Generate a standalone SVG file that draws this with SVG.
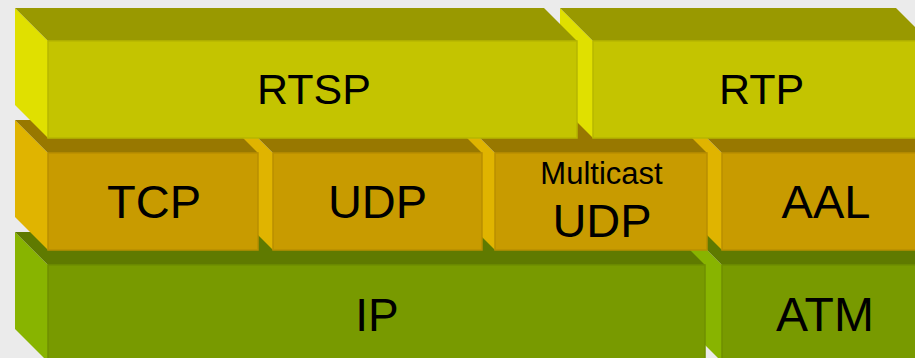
<svg xmlns="http://www.w3.org/2000/svg" width="915" height="358" viewBox="0 0 915 358">
<style>
.bg{fill:#ebebeb}
.t1f{fill:#c4c400;stroke:#b6b600;stroke-width:1.5}
.t1t{fill:#999900}
.t1s{fill:#e0e000}
.t2f{fill:#c89b00;stroke:#b98e00;stroke-width:1.5}
.t2t{fill:#987800}
.t2s{fill:#e0b400}
.t3f{fill:#789a00;stroke:#6f8f00;stroke-width:1.5}
.t3t{fill:#5f7a00}
.t3s{fill:#88b400}
text{font-family:"Liberation Sans",Arial,sans-serif;fill:#000;text-anchor:middle}
</style>
<rect class="bg" x="0" y="0" width="915" height="358"/>
<g id="connectors"></g>
<!-- bottom row, right to left -->
<g id="atm">
<polygon class="t3s" points="689,232 722,265 722,362 689,329"/>
<polygon class="t3t" points="689,232 897,232 930,265 722,265"/>
<rect class="t3f" x="722" y="265" width="208" height="97"/>
<text x="825" y="331" font-size="48">ATM</text>
</g>
<g id="ip">
<polygon class="t3s" points="15,232 48,265 48,362 15,329"/>
<polygon class="t3t" points="15,232 672,232 705,265 48,265"/>
<rect class="t3f" x="48" y="265" width="657" height="97"/>
<text x="377" y="331" font-size="46">IP</text>
</g>
<!-- middle row, right to left -->
<g id="aal">
<polygon class="t2s" points="689,120 722,153 722,250 689,217"/>
<polygon class="t2t" points="689,120 897,120 930,153 722,153"/>
<rect class="t2f" x="722" y="153" width="208" height="97"/>
<text x="826" y="218" font-size="47">AAL</text>
</g>
<g id="multicast-udp">
<polygon class="t2s" points="462,120 495,153 495,250 462,217"/>
<polygon class="t2t" points="462,120 674,120 707,153 495,153"/>
<rect class="t2f" x="495" y="153" width="212" height="97"/>
<text x="601.5" y="184" font-size="31">Multicast</text>
<text x="602" y="237" font-size="47">UDP</text>
</g>
<g id="udp">
<polygon class="t2s" points="240,120 273,153 273,250 240,217"/>
<polygon class="t2t" points="240,120 449,120 482,153 273,153"/>
<rect class="t2f" x="273" y="153" width="209" height="97"/>
<text x="377.5" y="218" font-size="47">UDP</text>
</g>
<g id="tcp">
<polygon class="t2s" points="15,120 48,153 48,250 15,217"/>
<polygon class="t2t" points="15,120 225,120 258,153 48,153"/>
<rect class="t2f" x="48" y="153" width="210" height="97"/>
<text x="154" y="218" font-size="47">TCP</text>
</g>
<!-- top row, right to left -->
<g id="rtp">
<polygon class="t1s" points="560,8 593,41 593,138 560,105"/>
<polygon class="t1t" points="560,8 896,8 929,41 593,41"/>
<rect class="t1f" x="593" y="41" width="336" height="97"/>
<text x="761.5" y="104" font-size="43">RTP</text>
</g>
<g id="rtsp">
<polygon class="t1s" points="15,8 48,41 48,138 15,105"/>
<polygon class="t1t" points="15,8 544,8 577,41 48,41"/>
<rect class="t1f" x="48" y="41" width="529" height="97"/>
<text x="314" y="104" font-size="43">RTSP</text>
</g>
</svg>
